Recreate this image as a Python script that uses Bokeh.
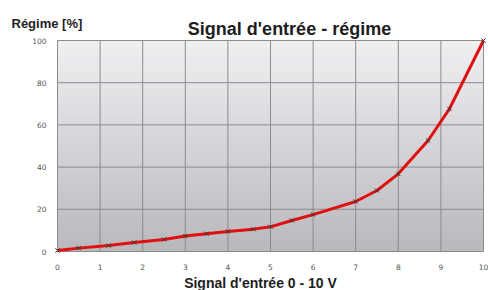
import numpy as np
from bokeh.plotting import figure
from bokeh.models import Range1d
from bokeh.core.properties import value
from bokeh.embed import file_html
from bokeh.resources import INLINE

signal = [0, 0.5, 1.2, 1.8, 2.5, 3.0, 3.5, 4.0, 4.6, 5.0, 5.5, 6.0, 7.0, 7.5, 8.0, 8.7, 9.2, 10.0]
regime = [0.5, 1.6, 2.8, 4.3, 5.7, 7.3, 8.4, 9.5, 10.6, 11.7, 14.7, 17.5, 23.7, 28.9, 36.8, 52.6, 67.6, 100.0]
x_ticks = [0, 1, 2, 3, 4, 5, 6, 7, 8, 9, 10]
y_ticks = [0, 20, 40, 60, 80, 100]
x_tick_labels = [str(v) for v in x_ticks]
y_tick_labels = [str(v) for v in y_ticks]
title_text = "Signal d'entrée - régime"
x_title = "Signal d'entrée 0 - 10 V"
y_title = "Régime [%]"

W, H = 488, 290
FL, FR, FT, FB = 57, 483, 40, 251   # plot-area edges in pixels
x0, x1 = x_ticks[0], x_ticks[-1]
y0, y1 = y_ticks[0], y_ticks[-1]
kx = (FR - FL) / (x1 - x0)
ky = (FB - FT) / (y1 - y0)

p = figure(width=W, height=H, output_backend="svg", toolbar_location=None,
           x_axis_location=None, y_axis_location=None,
           x_range=Range1d(x0 - FL / kx, x1 + (W - FR) / kx),
           y_range=Range1d(y0 - (H - FB) / ky, y1 + FT / ky),
           min_border=0)
p.grid.visible = False
p.outline_line_color = None
p.background_fill_color = "white"
p.border_fill_color = "white"

# vertical gradient background of the plot area
n = 64
top = np.array([241, 239, 242]); bot = np.array([186, 185, 190])
img = np.empty((n, 1), dtype=np.uint32)
view = img.view(dtype=np.uint8).reshape((n, 1, 4))
for i in range(n):
    t = i / (n - 1)
    c = bot + (top - bot) * t
    view[i, 0, 0:3] = c.astype(np.uint8)
    view[i, 0, 3] = 255
p.image_rgba(image=[img], x=x0, y=y0, dw=x1 - x0, dh=y1 - y0, level="image")

# grid lines from tick lists
grid_col = "#8c8c8c"
p.segment(x0=x_ticks, y0=[y0] * len(x_ticks), x1=x_ticks, y1=[y1] * len(x_ticks),
          line_color=grid_col, line_width=1)
p.segment(x0=[x0] * len(y_ticks), y0=y_ticks, x1=[x1] * len(y_ticks), y1=y_ticks,
          line_color=grid_col, line_width=1)

# data
p.line(signal, regime, line_color="#e01010", line_width=3)
p.scatter(signal, regime, marker="x", size=6, line_color="#3a3a3a", line_width=1)

# tick labels
tick_font = value("DejaVu Sans")
p.text(x=x_ticks, y=[y0] * len(x_ticks), text=x_tick_labels, y_offset=15,
       text_align="center", text_baseline="middle", text_font=tick_font,
       text_font_size="7.5px", text_color="#555555")
p.text(x=[x0] * len(y_ticks), y=y_ticks, text=y_tick_labels, x_offset=-11,
       text_align="right", text_baseline="middle", text_font=tick_font,
       text_font_size="7.5px", text_color="#555555")

# titles
bold_font = value("Liberation Sans")
xm = (x0 + x1) / 2
p.text(x=[xm], y=[y1], text=[title_text], x_offset=19, y_offset=-12,
       text_align="center", text_baseline="alphabetic", text_font=bold_font,
       text_font_style="bold", text_font_size="18px", text_color="#1e1e1e")
p.text(x=[xm], y=[y0], text=[x_title], x_offset=-10, y_offset=31,
       text_align="center", text_baseline="alphabetic", text_font=bold_font,
       text_font_style="bold", text_font_size="14px", text_color="#1e1e1e")
p.text(x=[x0], y=[y1], text=[y_title], x_offset=-46, y_offset=-17,
       text_align="left", text_baseline="alphabetic", text_font=bold_font,
       text_font_style="bold", text_font_size="13px", text_color="#1e1e1e")

open("out.html", "w").write(file_html(p, INLINE))
